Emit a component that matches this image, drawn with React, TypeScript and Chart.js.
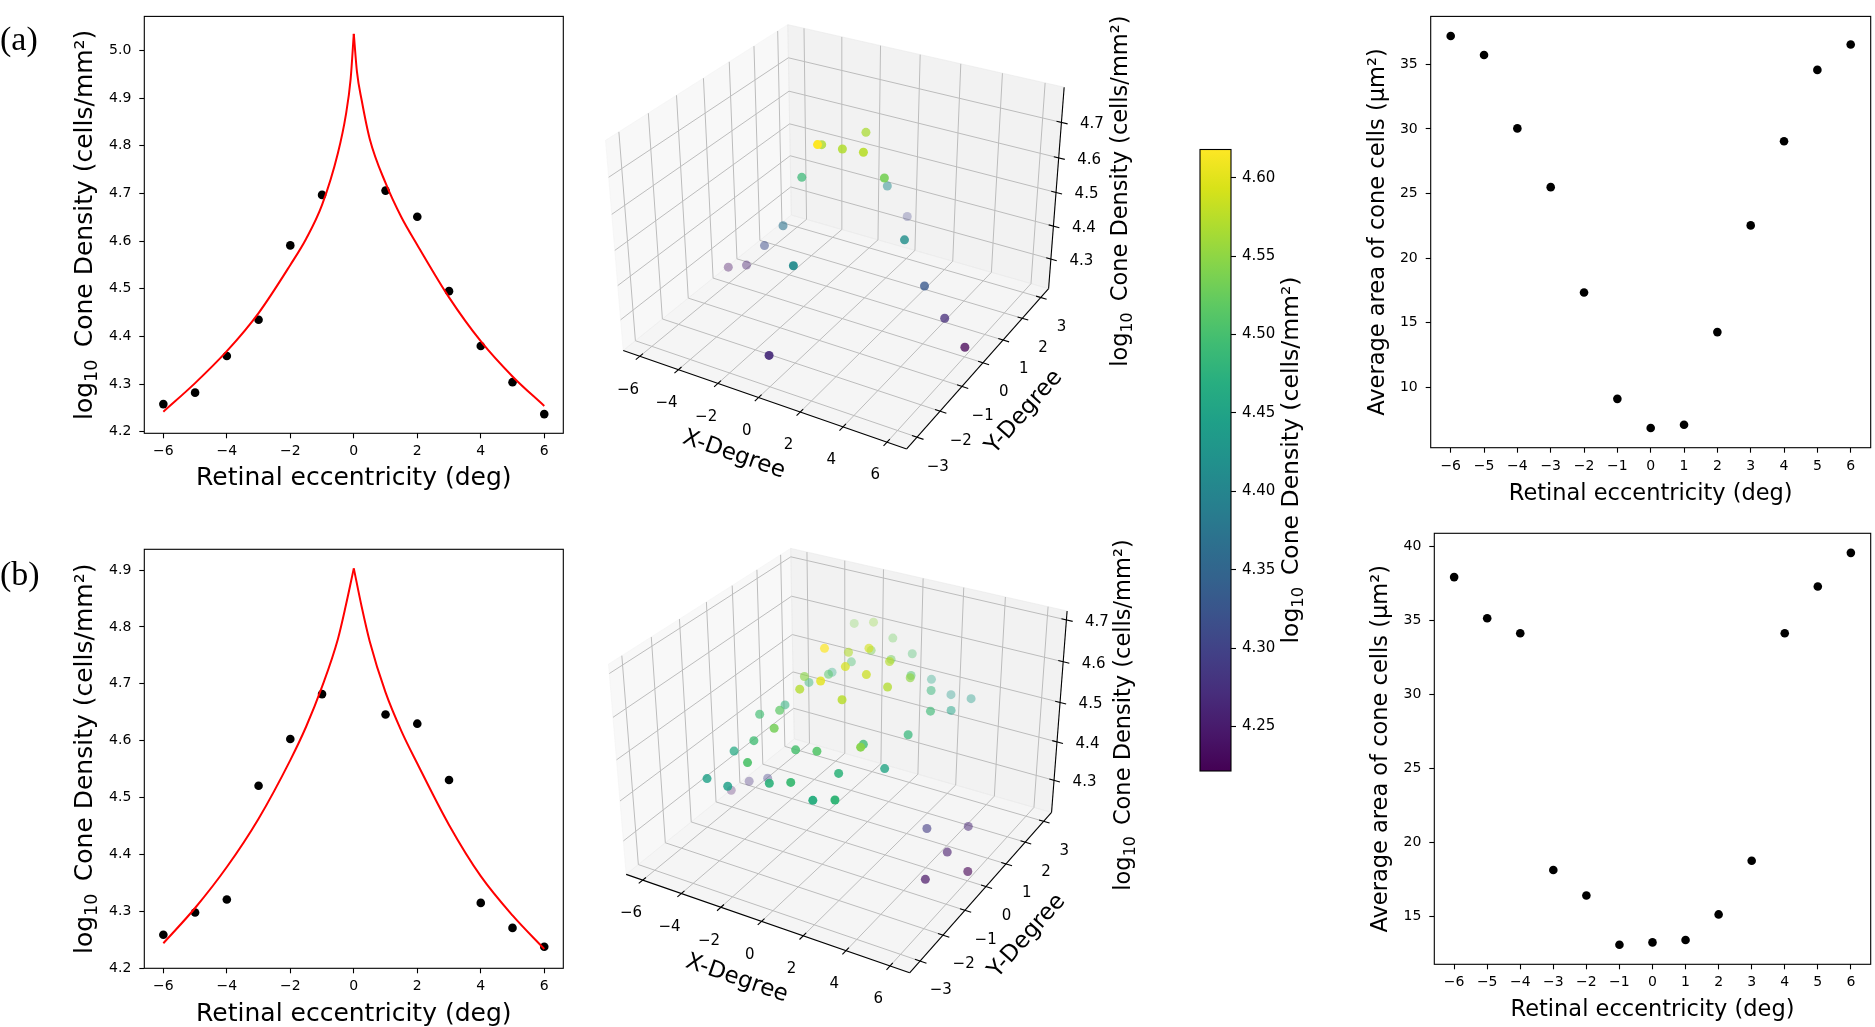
import React, { useEffect, useRef } from 'react';
import { Chart, registerables } from 'chart.js';

Chart.register(...registerables);

const FONT = '"DejaVu Sans", "Noto Sans", sans-serif';
Chart.defaults.font.family = FONT;
Chart.defaults.color = '#000';

/* ===== 2D data: log10 cone density vs retinal eccentricity ===== */
const eccentricity = [-6, -5, -4, -3, -2, -1, 1, 2, 3, 4, 5, 6];
const densityA = [4.258, 4.282, 4.359, 4.435, 4.591, 4.697, 4.706, 4.651, 4.495, 4.380, 4.304, 4.237];
const densityB = [4.259, 4.298, 4.321, 4.521, 4.603, 4.682, 4.646, 4.630, 4.531, 4.315, 4.271, 4.238];

/* fitted curves */
const fitEccLeftA = [-6, -5, -4, -3, -2, -1.5, -1, -0.5, -0.25, -0.1, 0];
const fitLeftA = [4.242, 4.302, 4.369, 4.449, 4.550, 4.605, 4.676, 4.785, 4.865, 4.940, 5.035];
const fitEccRightA = [0, 0.1, 0.25, 0.5, 1, 1.5, 2, 3, 4, 5, 6];
const fitRightA = [5.035, 4.955, 4.895, 4.815, 4.722, 4.650, 4.592, 4.482, 4.390, 4.316, 4.254];
const fitEccLeftB = [-6, -5, -4, -3, -2, -1.5, -1, -0.5, -0.25, 0];
const fitLeftB = [4.244, 4.306, 4.378, 4.463, 4.566, 4.625, 4.695, 4.779, 4.838, 4.903];
const fitEccRightB = [0, 0.25, 0.5, 1, 1.5, 2, 3, 4, 5, 6];
const fitRightB = [4.903, 4.835, 4.775, 4.685, 4.617, 4.560, 4.452, 4.362, 4.293, 4.234];

/* average area of cone cells (μm²) */
const areaEcc = [-6, -5, -4, -3, -2, -1, 0, 1, 2, 3, 4, 5, 6];
const areaA = [37.19, 35.72, 30.04, 25.49, 17.33, 9.10, 6.84, 7.10, 14.27, 22.53, 29.04, 34.57, 36.54];
const areaB = [37.95, 35.17, 34.16, 18.16, 16.44, 13.11, 13.27, 13.43, 15.16, 18.79, 34.16, 37.32, 39.59];

/* ===== 3D data ===== */
/* (a): horizontal meridian (y = 0) uses densityA; vertical meridian (x = 0) below */
const meridianYDeg = [-3, -2, -1, 0, 1, 2, 3];
const meridianDensityA = [4.300, 4.490, 4.763, 4.700, 4.695, 4.489, 4.341];
/* (b): 7x7 grid, rows by Y-degree, columns by X-degree */
const gridXDeg = [-3, -2, -1, 0, 1, 2, 3];
const gridYDeg = [3, 2, 1, 0, -1, -2, -3];
const gridDensityB = [
  [4.593, 4.608, 4.580, 4.553, 4.501, 4.475, 4.478],
  [4.512, 4.551, 4.592, 4.582, 4.555, 4.531, 4.495],
  [4.531, 4.564, 4.630, 4.652, 4.633, 4.607, 4.540],
  [4.521, 4.603, 4.682, 4.652, 4.646, 4.630, 4.531],
  [4.545, 4.568, 4.631, 4.663, 4.633, 4.543, 4.500],
  [4.505, 4.544, 4.587, 4.551, 4.562, 4.525, 4.600],
  [4.490, 4.487, 4.557, 4.524, 4.541, 4.515, 4.531],
];
const outerXDegB = [-6, -5, -4, 4, 5, 6, 5, 5];
const outerYDegB = [0, 0, 0, 0, 0, 0, 1, -1];
const outerDensityB = [4.259, 4.298, 4.321, 4.315, 4.271, 4.238, 4.281, 4.260];

/* ===== tick values ===== */
const eccTicksDensity = [-6, -4, -2, 0, 2, 4, 6];
const densityTicksA = [4.2, 4.3, 4.4, 4.5, 4.6, 4.7, 4.8, 4.9, 5.0];
const densityTicksB = [4.2, 4.3, 4.4, 4.5, 4.6, 4.7, 4.8, 4.9];
const eccTicksArea = [-6, -5, -4, -3, -2, -1, 0, 1, 2, 3, 4, 5, 6];
const areaTicksA = [10, 15, 20, 25, 30, 35];
const areaTicksB = [15, 20, 25, 30, 35, 40];
const xDegTicks = [-6, -4, -2, 0, 2, 4, 6];
const yDegTicks = [-3, -2, -1, 0, 1, 2, 3];
const zDensityTicks = [4.3, 4.4, 4.5, 4.6, 4.7];
const colorbarTicks = [4.25, 4.30, 4.35, 4.40, 4.45, 4.50, 4.55, 4.60];
const colorbarRange = [4.2216, 4.618];

/* ===== helpers ===== */
type Rect = { x: number; y: number; w: number; h: number };
type Box = { l: number; t: number; r: number; b: number };

const fmt = (v: number, d: number) => v.toFixed(d).replace('-', '\u2212');

const VIRIDIS = ['#440154', '#48186a', '#472d7b', '#424086', '#3b528b', '#33638d', '#2c728e', '#26828e', '#21918c',
  '#1fa088', '#28ae80', '#3fbc73', '#5ec962', '#84d44b', '#addc30', '#d8e219', '#fde725'];
const hex = (h: string) => [parseInt(h.slice(1, 3), 16), parseInt(h.slice(3, 5), 16), parseInt(h.slice(5, 7), 16)];
function viridis(t: number) {
  const tt = Math.max(0, Math.min(1, t));
  const n = VIRIDIS.length - 1;
  const i = Math.min(n - 1, Math.floor(tt * n));
  const f = tt * n - i;
  const a = hex(VIRIDIS[i]), b = hex(VIRIDIS[i + 1]);
  return a.map((v, k) => Math.round(v + (b[k] - v) * f));
}

function drawLogTitle(ctx: CanvasRenderingContext2D, bx: number, cy: number, size: number, rotate: boolean) {
  const rest = ' Cone Density (cells/mm\u00B2)';
  ctx.save();
  ctx.translate(bx, cy);
  if (rotate) ctx.rotate(-Math.PI / 2);
  const f1 = `${size}px ${FONT}`, f2 = `${size * 0.7}px ${FONT}`;
  ctx.font = f1; const w1 = ctx.measureText('log').width;
  ctx.font = f2; const w2 = ctx.measureText('10').width;
  ctx.font = f1; const w3 = ctx.measureText(rest).width;
  const gap = size * 0.18;
  let x = -(w1 + w2 + gap + w3) / 2;
  ctx.fillStyle = '#000'; ctx.textAlign = 'left'; ctx.textBaseline = 'alphabetic';
  ctx.font = f1; ctx.fillText('log', x, 0); x += w1;
  ctx.font = f2; ctx.fillText('10', x, size * 0.22); x += w2 + gap;
  ctx.font = f1; ctx.fillText(rest, x, 0);
  ctx.restore();
}

function drawRotText(ctx: CanvasRenderingContext2D, text: string, x: number, y: number, ang: number, size: number, baseline: CanvasTextBaseline = 'middle') {
  ctx.save();
  ctx.translate(x, y);
  ctx.rotate(ang);
  ctx.font = `${size}px ${FONT}`;
  ctx.fillStyle = '#000';
  ctx.textAlign = 'center';
  ctx.textBaseline = baseline;
  ctx.fillText(text, 0, 0);
  ctx.restore();
}

/* ===== 2D panels ===== */
type Panel2D = {
  rect: Rect; box: Box; xRange: number[]; yRange: number[];
  xTicks: number[]; yTicks: number[]; yDec: number;
  xTitle: string; xTitleSize: number; xTitleBase: number;
  yTitle: string | null; yTitleSize: number; yTitleBaseX: number;
  tag?: string; tagBase?: number;
  datasets: any[];
};

function build2D(p: Panel2D) {
  const frame = {
    id: 'frame',
    afterDraw(chart: any) {
      const ctx = chart.ctx as CanvasRenderingContext2D;
      const a = chart.chartArea;
      ctx.save();
      ctx.strokeStyle = '#000';
      ctx.lineWidth = 1.1;
      ctx.strokeRect(a.left, a.top, a.right - a.left, a.bottom - a.top);
      ctx.fillStyle = '#000';
      ctx.font = `${p.xTitleSize}px ${FONT}`;
      ctx.textAlign = 'center';
      ctx.textBaseline = 'alphabetic';
      ctx.fillText(p.xTitle, (a.left + a.right) / 2, p.xTitleBase - p.rect.y);
      const cy = (a.top + a.bottom) / 2;
      if (p.yTitle === null) {
        drawLogTitle(ctx, p.yTitleBaseX - p.rect.x, cy, p.yTitleSize, true);
      } else {
        drawRotText(ctx, p.yTitle, p.yTitleBaseX - p.rect.x, cy, -Math.PI / 2, p.yTitleSize, 'alphabetic');
      }
      if (p.tag) {
        ctx.font = '34px "Liberation Serif", "DejaVu Serif", serif';
        ctx.textAlign = 'left';
        ctx.textBaseline = 'alphabetic';
        ctx.fillText(p.tag, 0 - p.rect.x, (p.tagBase || 0) - p.rect.y);
      }
      ctx.restore();
    },
  };
  const gridOpts = { display: true, drawOnChartArea: false, drawTicks: true, tickLength: 5, tickColor: '#000', tickWidth: 1.1, color: '#000' };
  return {
    type: 'scatter',
    data: { datasets: p.datasets },
    options: {
      animation: false, responsive: false, devicePixelRatio: 1, events: [],
      layout: { padding: { left: 0, top: p.box.t - p.rect.y, right: p.rect.x + p.rect.w - p.box.r, bottom: 0 } },
      plugins: { legend: { display: false }, tooltip: { enabled: false } },
      scales: {
        x: {
          type: 'linear', min: p.xRange[0], max: p.xRange[1],
          afterFit: (s: any) => { s.height = p.rect.y + p.rect.h - p.box.b; },
          afterBuildTicks: (s: any) => { s.ticks = p.xTicks.map((v) => ({ value: v })); },
          ticks: { callback: (v: any) => fmt(Number(v), 0), font: { size: 14 }, color: '#000', padding: 5, maxRotation: 0, autoSkip: false },
          grid: gridOpts, border: { display: false },
        },
        y: {
          type: 'linear', min: p.yRange[0], max: p.yRange[1],
          afterFit: (s: any) => { s.width = p.box.l - p.rect.x; },
          afterBuildTicks: (s: any) => { s.ticks = p.yTicks.map((v) => ({ value: v })); },
          ticks: { callback: (v: any) => fmt(Number(v), p.yDec), font: { size: 14 }, color: '#000', padding: 8, autoSkip: false },
          grid: gridOpts, border: { display: false },
        },
      },
    },
    plugins: [frame],
  };
}

const pairs = (xs: number[], ys: number[]) => xs.map((x, i) => ({ x, y: ys[i] }));
const fitDs = (xs: number[], ys: number[]) => ({
  data: pairs(xs, ys), showLine: true, borderColor: '#ff0000', borderWidth: 2, pointRadius: 0,
  cubicInterpolationMode: 'monotone', order: 0,
});
const dotDs = (xs: number[], ys: number[]) => ({
  data: pairs(xs, ys), showLine: false, pointRadius: 4.3, pointBackgroundColor: '#000', pointBorderWidth: 0, order: 1,
});

const panelDensityA: Panel2D = {
  rect: { x: 0, y: 0, w: 600, h: 510 }, box: { l: 144.3, t: 14, r: 563.3, b: 433.3 },
  xRange: [-6.6, 6.6], yRange: [4.1967, 5.0716], xTicks: eccTicksDensity, yTicks: densityTicksA, yDec: 1,
  xTitle: 'Retinal eccentricity (deg)', xTitleSize: 25, xTitleBase: 485,
  yTitle: null, yTitleSize: 25, yTitleBaseX: 91.7, tag: '(a)', tagBase: 50,
  datasets: [fitDs(fitEccLeftA, fitLeftA), fitDs(fitEccRightA, fitRightA), dotDs(eccentricity, densityA)],
};
const panelDensityB: Panel2D = {
  rect: { x: 0, y: 510, w: 600, h: 517 }, box: { l: 144.3, t: 549.3, r: 563.3, b: 968.3 },
  xRange: [-6.6, 6.6], yRange: [4.2, 4.9365], xTicks: eccTicksDensity, yTicks: densityTicksB, yDec: 1,
  xTitle: 'Retinal eccentricity (deg)', xTitleSize: 25, xTitleBase: 1020.5,
  yTitle: null, yTitleSize: 25, yTitleBaseX: 91.7, tag: '(b)', tagBase: 585,
  datasets: [fitDs(fitEccLeftB, fitLeftB), fitDs(fitEccRightB, fitRightB), dotDs(eccentricity, densityB)],
};
const panelAreaA: Panel2D = {
  rect: { x: 1330, y: 0, w: 545, h: 510 }, box: { l: 1430.7, t: 13.3, r: 1874, b: 447.7 },
  xRange: [-6.6, 6.6], yRange: [5.32, 38.71], xTicks: eccTicksArea, yTicks: areaTicksA, yDec: 0,
  xTitle: 'Retinal eccentricity (deg)', xTitleSize: 22.5, xTitleBase: 499.5,
  yTitle: 'Average area of cone cells (\u03BCm\u00B2)', yTitleSize: 22.5, yTitleBaseX: 1384,
  datasets: [dotDs(areaEcc, areaA)],
};
const panelAreaB: Panel2D = {
  rect: { x: 1330, y: 510, w: 545, h: 517 }, box: { l: 1434.3, t: 533.3, r: 1874, b: 964.3 },
  xRange: [-6.6, 6.6], yRange: [11.79, 40.91], xTicks: eccTicksArea, yTicks: areaTicksB, yDec: 0,
  xTitle: 'Retinal eccentricity (deg)', xTitleSize: 22.5, xTitleBase: 1016.4,
  yTitle: 'Average area of cone cells (\u03BCm\u00B2)', yTitleSize: 22.5, yTitleBaseX: 1387,
  datasets: [dotDs(areaEcc, areaB)],
};

/* ===== 3D panels ===== */
type Box3 = { cx: number; cy: number; kx: number; ky: number; dist: number; xl: number[]; yl: number[]; zl: number[] };
const EL = (30 * Math.PI) / 180, AZ = (-60 * Math.PI) / 180;
const EYE = [Math.cos(EL) * Math.cos(AZ), Math.cos(EL) * Math.sin(AZ), Math.sin(EL)];
const RIGHT = [-Math.sin(AZ), Math.cos(AZ), 0];
const UP = [-Math.sin(EL) * Math.cos(AZ), -Math.sin(EL) * Math.sin(AZ), Math.cos(EL)];

function project(b: Box3, x: number, y: number, z: number) {
  const X = (x - b.xl[0]) / (b.xl[1] - b.xl[0]) - 0.5;
  const Y = (y - b.yl[0]) / (b.yl[1] - b.yl[0]) - 0.5;
  const Z = ((z - b.zl[0]) / (b.zl[1] - b.zl[0]) - 0.5) * 0.75;
  const sx = RIGHT[0] * X + RIGHT[1] * Y;
  const sy = UP[0] * X + UP[1] * Y + UP[2] * Z;
  const d = EYE[0] * X + EYE[1] * Y + EYE[2] * Z;
  const f = b.dist / (b.dist - d);
  return { px: b.cx + b.kx * sx * f, py: b.cy - b.ky * sy * f, d };
}

type P3 = { x: number; y: number; z: number };

function build3D(rect: Rect, box: Box3, pts: P3[]) {
  const zs = pts.map((p) => p.z);
  const vmin = Math.min(...zs), vmax = Math.max(...zs);
  const pr = pts.map((p) => ({ z: p.z, ...project(box, p.x, p.y, p.z) }));
  pr.sort((a, b) => a.d - b.d);
  const dmin = pr[0].d, dmax = pr[pr.length - 1].d;
  const colors = pr.map((p) => {
    const c = viridis((p.z - vmin) / (vmax - vmin));
    const al = 0.3 + (0.7 * (p.d - dmin)) / (dmax - dmin);
    return `rgba(${c[0]},${c[1]},${c[2]},${al.toFixed(3)})`;
  });
  const [x0, x1] = box.xl, [y0, y1] = box.yl, [z0, z1] = box.zl;
  const axes = {
    id: 'axes3d',
    beforeDatasetsDraw(chart: any) {
      const ctx = chart.ctx as CanvasRenderingContext2D;
      const SX = chart.scales.x, SY = chart.scales.y;
      const pg = (px: number, py: number) => [SX.getPixelForValue(px), SY.getPixelForValue(py)];
      const pt = (x: number, y: number, z: number) => { const q = project(box, x, y, z); return pg(q.px, q.py); };
      const path = (cs: number[][]) => {
        ctx.beginPath();
        cs.forEach((c, i) => { const [a, b] = pt(c[0], c[1], c[2]); if (i) ctx.lineTo(a, b); else ctx.moveTo(a, b); });
      };
      ctx.save();
      const pane = (cs: number[][], color: string) => {
        path(cs); ctx.closePath();
        ctx.fillStyle = color; ctx.fill();
        ctx.strokeStyle = color; ctx.lineWidth = 1; ctx.stroke();
      };
      pane([[x0, y0, z0], [x0, y1, z0], [x0, y1, z1], [x0, y0, z1]], 'rgba(242,242,242,0.5)');
      pane([[x0, y1, z0], [x1, y1, z0], [x1, y1, z1], [x0, y1, z1]], 'rgba(230,230,230,0.5)');
      pane([[x0, y0, z0], [x1, y0, z0], [x1, y1, z0], [x0, y1, z0]], 'rgba(236,236,236,0.5)');
      const line = (cs: number[][], color: string, w: number) => {
        path(cs); ctx.strokeStyle = color; ctx.lineWidth = w; ctx.stroke();
      };
      xDegTicks.forEach((x) => line([[x, y0, z0], [x, y1, z0], [x, y1, z1]], '#bcbcbc', 1));
      yDegTicks.forEach((y) => line([[x1, y, z0], [x0, y, z0], [x0, y, z1]], '#bcbcbc', 1));
      zDensityTicks.forEach((z) => line([[x0, y0, z], [x0, y1, z], [x1, y1, z]], '#bcbcbc', 1));
      line([[x0, y0, z0], [x1, y0, z0]], '#000', 1.1);
      line([[x1, y0, z0], [x1, y1, z0]], '#000', 1.1);
      line([[x1, y1, z0], [x1, y1, z1]], '#000', 1.1);
      const dy = (y1 - y0) / 12, dx = (x1 - x0) / 12;
      xDegTicks.forEach((x) => line([[x, y0 + 0.2 * dy, z0], [x, y0 - 0.25 * dy, z0]], '#000', 1.1));
      yDegTicks.forEach((y) => line([[x1 - 0.2 * dx, y, z0], [x1 + 0.25 * dx, y, z0]], '#000', 1.1));
      zDensityTicks.forEach((z) => line([[x1 - 0.2 * dx, y1, z], [x1 + 0.25 * dx, y1, z]], '#000', 1.1));
      ctx.font = `15px ${FONT}`;
      ctx.fillStyle = '#000';
      ctx.textAlign = 'center';
      ctx.textBaseline = 'middle';
      xDegTicks.forEach((x) => { const q = project(box, x, y0, z0); const [a, b] = pg(q.px - 12, q.py + 34); ctx.fillText(fmt(x, 0), a, b); });
      yDegTicks.forEach((y) => { const q = project(box, x1, y, z0); const [a, b] = pg(q.px + 21, q.py + 30); ctx.fillText(fmt(y, 0), a, b); });
      zDensityTicks.forEach((z) => { const q = project(box, x1, y1, z); const [a, b] = pg(q.px + 31, q.py + 2); ctx.fillText(fmt(z, 1), a, b); });
      const A = project(box, x0, y0, z0), B = project(box, x1, y0, z0), C = project(box, x1, y1, z0);
      const angX = Math.atan2(B.py - A.py, B.px - A.px);
      const angY = Math.atan2(C.py - B.py, C.px - B.px);
      const lx = pg(box.cx - 110.3, box.cy + 239.3);
      drawRotText(ctx, 'X-Degree', lx[0], lx[1], angX, 23);
      const ly = pg(box.cx + 184.7, box.cy + 196);
      drawRotText(ctx, 'Y-Degree', ly[0], ly[1], angY, 23);
      const lz = pg(box.cx + 289, box.cy - 29);
      drawLogTitle(ctx, lz[0], lz[1], 22.5, true);
      ctx.restore();
    },
  };
  return {
    type: 'scatter',
    data: {
      datasets: [{
        data: pr.map((p) => ({ x: p.px, y: p.py })),
        pointRadius: 4.5, pointBackgroundColor: colors, pointBorderWidth: 0, showLine: false,
      }],
    },
    options: {
      animation: false, responsive: false, devicePixelRatio: 1, events: [],
      layout: { padding: 0 },
      plugins: { legend: { display: false }, tooltip: { enabled: false } },
      scales: {
        x: { type: 'linear', display: false, min: rect.x, max: rect.x + rect.w },
        y: { type: 'linear', display: false, min: rect.y, max: rect.y + rect.h, reverse: true },
      },
    },
    plugins: [axes],
  };
}

const box3A: Box3 = { cx: 842, cy: 219, kx: 328, ky: 322, dist: 5, xl: [-6.875, 6.875], yl: [-3.4375, 3.4375], zl: [4.208, 4.797] };
const box3B: Box3 = { cx: 845, cy: 743, kx: 328, ky: 322, dist: 5, xl: [-6.875, 6.875], yl: [-3.4375, 3.4375], zl: [4.214, 4.721] };

const points3A: P3[] = [
  ...eccentricity.map((x, i) => ({ x, y: 0, z: densityA[i] })),
  ...meridianYDeg.map((y, i) => ({ x: 0, y, z: meridianDensityA[i] })),
];
const points3B: P3[] = [
  ...gridYDeg.flatMap((y, r) => gridXDeg.map((x, c) => ({ x, y, z: gridDensityB[r][c] }))),
  ...outerXDegB.map((x, i) => ({ x, y: outerYDegB[i], z: outerDensityB[i] })),
];

/* ===== colorbar ===== */
function buildColorbar() {
  const rect = { x: 1180, y: 130, w: 200, h: 680 };
  const box = { l: 1200, t: 149.5, r: 1231, b: 771 };
  const axisW = 60;
  const frame = {
    id: 'cbframe',
    afterDraw(chart: any) {
      const ctx = chart.ctx as CanvasRenderingContext2D;
      const a = chart.chartArea;
      ctx.save();
      ctx.strokeStyle = '#000';
      ctx.lineWidth = 1.1;
      ctx.strokeRect(a.left, a.top, a.right - a.left, a.bottom - a.top);
      drawLogTitle(ctx, 1298 - rect.x, 460 - rect.y, 23.5, true);
      ctx.restore();
    },
  };
  return {
    type: 'bar',
    data: {
      labels: [''],
      datasets: [{
        data: [[colorbarRange[0], colorbarRange[1]]],
        backgroundColor: (c: any) => {
          const ch = c.chart; const a = ch.chartArea;
          if (!a) return '#21918c';
          const g = ch.ctx.createLinearGradient(0, a.bottom, 0, a.top);
          VIRIDIS.forEach((col, i) => g.addColorStop(i / (VIRIDIS.length - 1), col));
          return g;
        },
        borderWidth: 0, barPercentage: 1, categoryPercentage: 1,
      }],
    },
    options: {
      animation: false, responsive: false, devicePixelRatio: 1, events: [],
      layout: { padding: { left: box.l - rect.x, top: box.t - rect.y, right: rect.x + rect.w - box.r - axisW, bottom: rect.y + rect.h - box.b } },
      plugins: { legend: { display: false }, tooltip: { enabled: false } },
      scales: {
        x: { display: false },
        y: {
          position: 'right', min: colorbarRange[0], max: colorbarRange[1],
          afterFit: (s: any) => { s.width = axisW; },
          afterBuildTicks: (s: any) => { s.ticks = colorbarTicks.map((v) => ({ value: v })); },
          ticks: { callback: (v: any) => fmt(Number(v), 2), font: { size: 15 }, color: '#000', padding: 6, autoSkip: false },
          grid: { display: true, drawOnChartArea: false, drawTicks: true, tickLength: 5, tickColor: '#000', tickWidth: 1.1 },
          border: { display: false },
        },
      },
    },
    plugins: [frame],
  };
}

/* ===== React ===== */
function ChartCanvas({ rect, build }: { rect: Rect; build: () => any }) {
  const ref = useRef<HTMLCanvasElement | null>(null);
  useEffect(() => {
    if (!ref.current) return;
    const chart = new Chart(ref.current, build());
    return () => chart.destroy();
  }, []);
  return (
    <canvas
      ref={ref}
      width={rect.w}
      height={rect.h}
      style={{ position: 'absolute', left: rect.x, top: rect.y, width: rect.w, height: rect.h }}
    />
  );
}

const rect3A: Rect = { x: 585, y: 0, w: 565, h: 510 };
const rect3B: Rect = { x: 585, y: 510, w: 565, h: 517 };

export default function App() {
  return (
    <div style={{ position: 'absolute', left: 0, top: 0, width: 1875, height: 1027, background: '#fff', overflow: 'hidden' }}>
      <ChartCanvas rect={panelDensityA.rect} build={() => build2D(panelDensityA)} />
      <ChartCanvas rect={panelDensityB.rect} build={() => build2D(panelDensityB)} />
      <ChartCanvas rect={rect3A} build={() => build3D(rect3A, box3A, points3A)} />
      <ChartCanvas rect={rect3B} build={() => build3D(rect3B, box3B, points3B)} />
      <ChartCanvas rect={{ x: 1180, y: 130, w: 200, h: 680 }} build={buildColorbar} />
      <ChartCanvas rect={panelAreaA.rect} build={() => build2D(panelAreaA)} />
      <ChartCanvas rect={panelAreaB.rect} build={() => build2D(panelAreaB)} />
    </div>
  );
}
